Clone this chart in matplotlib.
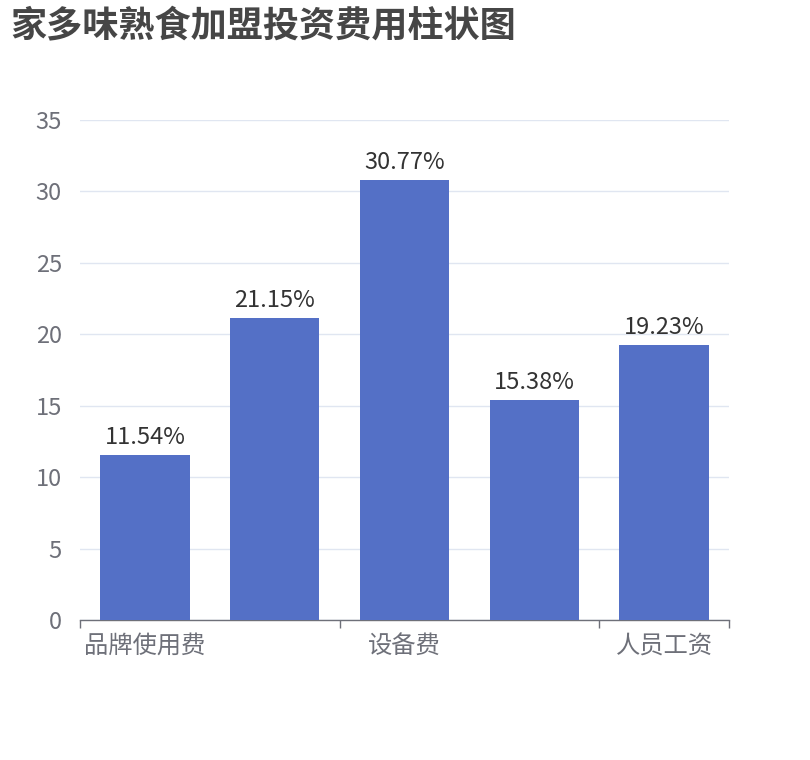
import matplotlib
matplotlib.use("Agg")
import matplotlib.pyplot as plt
import numpy as np

plt.rcParams['font.family'] = ['Noto Sans CJK SC', 'DejaVu Sans']

title = "家多味熟食加盟投资费用柱状图"
categories = ["品牌使用费", "店面租金", "设备费", "装修费", "人员工资"]
values = [11.54, 21.15, 30.77, 15.38, 19.23]
labels = ["11.54%", "21.15%", "30.77%", "15.38%", "19.23%"]
yticks = [0, 5, 10, 15, 20, 25, 30, 35]

W, H = 810, 760
fig = plt.figure(figsize=(W / 100, H / 100), dpi=100)
ax = fig.add_axes([80 / W, 1 - 620 / H, (729 - 80) / W, 500 / H])

x = np.arange(len(categories))
bars = ax.bar(x, values, width=0.69, color="#5470C6", zorder=3)
for xi, v, lab in zip(x, values, labels):
    ax.annotate(lab, (xi, v), xytext=(0, 6), textcoords="offset pixels",
                ha="center", va="bottom", fontsize=17, color="#333333")

ax.set_xlim(-0.5, len(categories) - 0.5)
ax.set_ylim(0, 35)
ax.set_yticks(yticks)
ax.set_yticklabels([str(t) for t in yticks])
ax.yaxis.grid(True, color="#E0E6F1", linewidth=1, zorder=0)
ax.tick_params(axis="y", length=0, pad=13, labelsize=17, labelcolor="#6E7079")

# x ticks at category boundaries every 2, labels at every other category
ax.set_xticks([-0.5, 1.5, 3.5, 4.5])
ax.set_xticklabels([])
ax.set_xticks(x[::2], minor=True)
ax.set_xticklabels([categories[i] for i in x[::2]], minor=True)
ax.tick_params(axis="x", which="major", length=6, width=1, color="#6E7079", direction="out")
ax.tick_params(axis="x", which="minor", length=0, pad=9, labelsize=17.5, labelcolor="#6E7079")

for s in ["top", "right", "left"]:
    ax.spines[s].set_visible(False)
ax.spines["bottom"].set_color("#6E7079")
ax.spines["bottom"].set_linewidth(1)

fig.text(10 / W, 1 - 27 / H, title, fontsize=26, fontweight="bold",
         color="#464646", ha="left", va="center")

fig.savefig("out.png", dpi=100)
